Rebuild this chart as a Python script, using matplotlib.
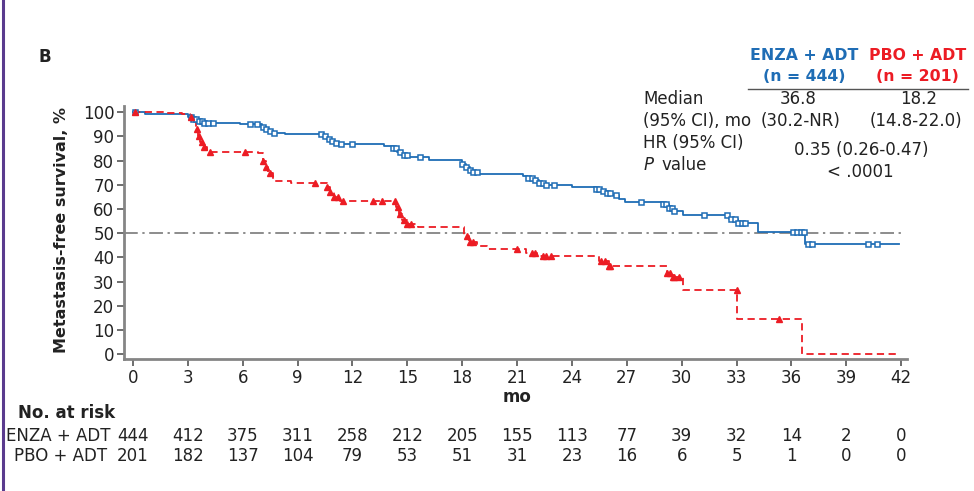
import numpy as np
import matplotlib
matplotlib.use("Agg")
import matplotlib.pyplot as plt
from matplotlib.lines import Line2D

plt.rcParams['font.family'] = ['DejaVu Sans']

# ENZA + ADT step curve (time in months, survival %)
enza_t = [0, 0.65, 1.86, 3.0, 3.3, 3.6, 3.9, 4.3, 5.85, 7.05, 7.25, 7.45, 7.65, 8.3,
          10.4, 10.6, 10.8, 11.0, 11.3, 13.7, 14.2, 14.45, 14.7, 15.1, 16.2, 18.0, 18.2,
          18.4, 18.6, 18.9, 19.4, 21.3, 21.6, 21.9, 22.2, 22.5, 24.0, 25.3, 25.6, 25.9,
          26.2, 26.6, 26.9, 29.0, 29.3, 29.5, 30.1, 32.6, 33.1, 34.15, 36.75]
enza_s = [100, 99.4, 99.0, 97.8, 97.0, 96.2, 95.5, 95.3, 95.0, 94.0, 93.0, 92.0, 91.4, 91.0,
          90.3, 89.0, 88.0, 87.2, 86.8, 86.0, 85.0, 83.5, 82.3, 81.3, 80.1, 78.5, 77.3,
          76.2, 75.2, 74.6, 74.3, 73.8, 72.8, 71.8, 70.8, 69.8, 69.1, 68.3, 67.3, 66.5,
          65.8, 64.0, 63.0, 62.2, 60.6, 59.0, 57.4, 55.8, 54.3, 50.7, 45.5]
enza_end = 41.9
enza_cens = [0.1, 3.2, 3.3, 3.45, 3.6, 3.75, 3.9, 4.1, 4.4, 6.4, 6.8, 7.1, 7.3, 7.5, 7.7,
             10.3, 10.5, 10.7, 10.9, 11.1, 11.4, 12.0, 14.2, 14.4, 14.6, 14.8, 15.0, 15.7,
             18.0, 18.2, 18.4, 18.6, 18.8, 21.6, 21.8, 22.0, 22.2, 22.4, 22.6, 23.0,
             25.3, 25.5, 25.7, 25.9, 26.1, 26.4, 27.8, 29.0, 29.15, 29.3, 29.45, 29.6,
             31.2, 32.5, 32.7, 32.9, 33.1, 33.3, 33.45, 36.1, 36.3, 36.5, 36.7, 36.9, 37.1,
             40.2, 40.7]

# PBO + ADT step curve
pbo_t = [0, 1.75, 2.7, 3.1, 3.3, 3.45, 3.55, 3.65, 3.8, 4.05, 6.85, 7.1, 7.25, 7.4, 7.65,
         8.65, 10.6, 10.8, 11.0, 11.3, 14.4, 14.55, 14.7, 15.0, 15.6, 18.1, 18.35, 18.8,
         19.35, 21.5, 22.1, 25.5, 26.0, 29.2, 29.4, 30.1, 33.05, 36.6]
pbo_s = [100, 99.5, 99.0, 98.0, 96.5, 93.0, 90.0, 87.5, 85.5, 83.5, 83.0, 80.0, 77.5, 75.0,
         71.5, 70.8, 69.0, 67.0, 65.0, 63.5, 61.0, 58.0, 55.5, 53.9, 52.7, 49.0, 46.2, 44.6,
         43.5, 41.7, 40.5, 38.5, 36.4, 33.5, 31.9, 26.7, 14.4, 0]
pbo_end = 41.8
pbo_cens = [0.1, 3.2, 3.5, 3.6, 3.75, 3.9, 4.2, 6.1, 7.1, 7.3, 7.5, 9.95, 10.6, 10.8, 11.0,
            11.2, 11.5, 13.1, 13.6, 14.3, 14.5, 14.6, 14.8, 15.0, 15.2, 18.25, 18.4, 18.6,
            21.0, 21.8, 22.0, 22.4, 22.6, 22.85, 25.6, 25.8, 26.0, 26.1, 29.2, 29.35, 29.5,
            29.6, 29.85, 33.0, 35.3]

# number at risk
risk_months = [0, 3, 6, 9, 12, 15, 18, 21, 24, 27, 30, 33, 36, 39, 42]
risk_enza = [444, 412, 375, 311, 258, 212, 205, 155, 113, 77, 39, 32, 14, 2, 0]
risk_pbo = [201, 182, 137, 104, 79, 53, 51, 31, 23, 16, 6, 5, 1, 0, 0]

blue = '#1f6db5'
red = '#ec1c24'
dark = '#222222'
W, H = 974, 491
FS = 12


def step_at(ts, ss, x):
    i = np.searchsorted(ts, x, side='right') - 1
    return np.asarray(ss)[i]


fig = plt.figure(figsize=(W / 100, H / 100), dpi=100)
ax = fig.add_axes([124 / W, 132 / H, (907 - 124) / W, (359 - 106) / H])
ax.set_xlim(-0.49, 42.32)
ax.set_ylim(-1.9, 102.5)

# median line
ax.plot([-0.49, 42], [50, 50], color='#6e6e6e', lw=1.1,
        linestyle=(0, (9, 3, 1.5, 3)), zorder=1)

# curves
ax.step(enza_t + [enza_end], enza_s + [enza_s[-1]], where='post', color=blue, lw=1.3, zorder=3)
ax.step(pbo_t + [pbo_end], pbo_s + [pbo_s[-1]], where='post', color=red, lw=1.3,
        linestyle=(0, (4, 2.5)), zorder=3)

ax.plot(enza_cens, step_at(enza_t, enza_s, enza_cens), linestyle='none', marker='s',
        markersize=3.6, markerfacecolor='white', markeredgecolor=blue, markeredgewidth=1.1, zorder=4)
ax.plot(pbo_cens, step_at(pbo_t, pbo_s, pbo_cens), linestyle='none', marker='^',
        markersize=5, color=red, zorder=4)

# axes styling
for side in ['top', 'right']:
    ax.spines[side].set_visible(False)
for side in ['left', 'bottom']:
    ax.spines[side].set_color('#858585')
    ax.spines[side].set_linewidth(2)
ax.set_xticks(risk_months)
ax.set_yticks(range(0, 101, 10))
ax.tick_params(axis='both', length=5, width=1.2, color='#555555', labelsize=FS,
               labelcolor=dark, pad=2)

fig.text(62 / W, 1 - 230 / H, 'Metastasis-free survival, %', rotation=90, ha='center',
         va='center', fontsize=11.5, fontweight='bold', color=dark)
fig.text(517 / W, 1 - 397 / H, 'mo', ha='center', va='center', fontsize=FS,
         fontweight='bold', color=dark)
fig.text(38 / W, 1 - 57 / H, 'B', ha='left', va='center', fontsize=FS, fontweight='bold',
         color=dark)


# summary table
def ft(x, y, s, color=dark, **kw):
    fig.text(x / W, 1 - y / H, s, va='center', fontsize=kw.pop('fontsize', FS), color=color, **kw)


hdr = dict(ha='center', fontweight='bold', fontsize=11.3)
ft(804, 55, 'ENZA + ADT', color=blue, **hdr)
ft(804, 77, '(n = 444)', color=blue, **hdr)
ft(918, 55, 'PBO + ADT', color=red, **hdr)
ft(917, 77, '(n = 201)', color=red, **hdr)
fig.add_artist(Line2D([748 / W, 968 / W], [1 - 89 / H, 1 - 89 / H], color='#555555', lw=1))
ft(643, 99, 'Median', ha='left')
ft(643, 121, '(95% CI), mo', ha='left')
ft(643, 143, 'HR (95% CI)', ha='left')
ft(644, 165, 'P', ha='left', fontstyle='italic')
ft(661, 165, 'value', ha='left')
ft(798, 99, '36.8', ha='center')
ft(919, 99, '18.2', ha='center')
ft(801, 121, '(30.2-NR)', ha='center')
ft(916, 121, '(14.8-22.0)', ha='center')
ft(861, 150, '0.35 (0.26-0.47)', ha='center')
ft(860, 172, '< .0001', ha='center')

# risk table
trans = matplotlib.transforms.blended_transform_factory(ax.transData, fig.transFigure)
fig.text(18 / W, 1 - 413 / H, 'No. at risk', ha='left', va='center', fontsize=FS,
         fontweight='bold', color=dark)
fig.text(6 / W, 1 - 436 / H, 'ENZA + ADT', ha='left', va='center', fontsize=FS, color=dark)
fig.text(14 / W, 1 - 456 / H, 'PBO + ADT', ha='left', va='center', fontsize=FS, color=dark)
for m, a, b in zip(risk_months, risk_enza, risk_pbo):
    ax.text(m, 1 - 436 / H, str(a), transform=trans, ha='center', va='center',
            fontsize=FS, color=dark, clip_on=False)
    ax.text(m, 1 - 456 / H, str(b), transform=trans, ha='center', va='center',
            fontsize=FS, color=dark, clip_on=False)

# purple frame edge
fig.add_artist(Line2D([3 / W, 3 / W], [0, 1], color='#5a3b8e', lw=2.2))

fig.savefig('out.png', dpi=100)
